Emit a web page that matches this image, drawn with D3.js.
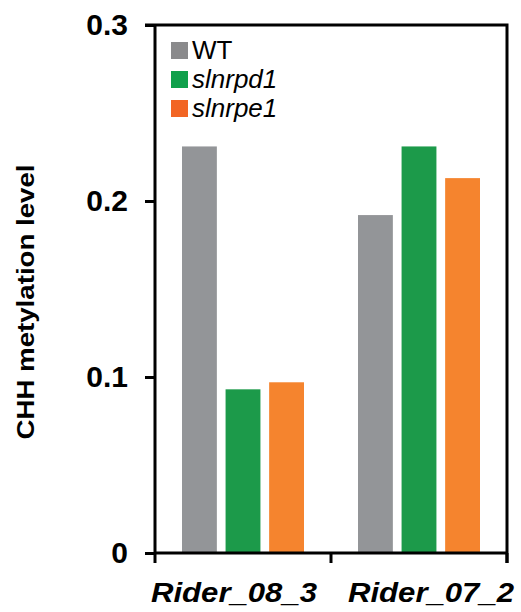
<!DOCTYPE html>
<html>
<head>
<meta charset="utf-8">
<script src="https://cdn.jsdelivr.net/npm/d3@7"></script>
<style>
  body { margin: 0; background: #fff; }
  svg { font-family: Arial, "Liberation Sans", sans-serif; }
</style>
</head>
<body>
<svg id="chart" width="521" height="612"></svg>
<script>
// data
var loci = ["Rider_08_3", "Rider_07_2"];
var genotypes = ["WT", "slnrpd1", "slnrpe1"];
var wt      = [0.231, 0.192];
var slnrpd1 = [0.093, 0.231];
var slnrpe1 = [0.097, 0.213];
var yTicks = [0, 0.1, 0.2, 0.3];

var barColors = ["#939598", "#1c9a4a", "#f5842e"];
var legendColors = ["#8a8a8c", "#10a04b", "#f26524"];

var svg = d3.select("#chart"),
    margin = {top: 25, right: 14, bottom: 59, left: 155},
    width = +svg.attr("width") - margin.left - margin.right,
    height = +svg.attr("height") - margin.top - margin.bottom;

var g = svg.append("g")
    .attr("transform", "translate(" + margin.left + "," + margin.top + ")");

var x0 = d3.scaleBand().domain(loci).range([0, width]);
var x1 = d3.scaleBand().domain(genotypes).range([27, 149]).paddingInner(0.2);
var y = d3.scaleLinear().domain([0, 0.3]).range([height, 0]);

var rows = loci.map(function(l, i) {
  return {locus: l, values: [wt[i], slnrpd1[i], slnrpe1[i]]};
});

// bars
var grp = g.selectAll(".grp")
    .data(rows)
  .enter().append("g")
    .attr("transform", function(d) { return "translate(" + x0(d.locus) + ",0)"; });

grp.selectAll("rect")
    .data(function(d) { return d.values.map(function(v, j) { return {k: genotypes[j], v: v, j: j}; }); })
  .enter().append("rect")
    .attr("x", function(d) { return x1(d.k); })
    .attr("width", x1.bandwidth())
    .attr("y", function(d) { return y(d.v); })
    .attr("height", function(d) { return height - y(d.v); })
    .attr("fill", function(d) { return barColors[d.j]; });

// frame (top and right)
g.append("path")
    .attr("d", "M-10,0H" + width + "V" + (height + 10))
    .attr("fill", "none")
    .attr("stroke", "#000")
    .attr("stroke-width", 3);

// y axis
var yAxis = g.append("g")
    .call(d3.axisLeft(y).tickValues(yTicks).tickSize(10).tickPadding(17)
          .tickFormat(function(d) { return d === 0 ? "0" : d3.format(".1f")(d); }));
yAxis.select(".domain").attr("stroke-width", 3).attr("d", "M0,0V" + height);
yAxis.selectAll(".tick line").attr("stroke-width", 3);
yAxis.selectAll("text")
    .attr("font-size", 30)
    .attr("font-weight", "bold")
    .attr("font-family", "Arial, 'Liberation Sans', sans-serif")
    .attr("fill", "#000");

// x axis
var xAxis = g.append("g")
    .attr("transform", "translate(0," + height + ")")
    .call(d3.axisBottom(x0).tickValues([]).tickSizeOuter(0));
xAxis.select(".domain").attr("stroke-width", 3).attr("d", "M0,0H" + width);
xAxis.selectAll(".sep")
    .data([0, x0.step(), width])
  .enter().append("line")
    .attr("class", "sep")
    .attr("x1", function(d) { return d; })
    .attr("x2", function(d) { return d; })
    .attr("y1", 0)
    .attr("y2", 10)
    .attr("stroke", "#000")
    .attr("stroke-width", 3);

xAxis.selectAll(".lab")
    .data(loci)
  .enter().append("text")
    .attr("class", "lab")
    .attr("x", function(d, i) { return x0(d) + x0.bandwidth() / 2 + (i === 0 ? -9 : 12); })
    .attr("y", 49)
    .attr("text-anchor", "middle")
    .attr("font-size", 27)
    .attr("font-weight", "bold")
    .attr("font-style", "italic")
    .attr("textLength", 166)
    .attr("lengthAdjust", "spacingAndGlyphs")
    .attr("fill", "#000")
    .text(function(d) { return d; });

// y label
svg.append("text")
    .attr("transform", "translate(34," + (margin.top + 277) + ") rotate(-90)")
    .attr("text-anchor", "middle")
    .attr("font-size", 24)
    .attr("font-weight", "bold")
    .attr("textLength", 275)
    .attr("lengthAdjust", "spacingAndGlyphs")
    .text("CHH metylation level");

// legend
var legend = g.append("g")
    .attr("transform", "translate(16,17)")
  .selectAll("g")
    .data(genotypes)
  .enter().append("g")
    .attr("transform", function(d, i) { return "translate(0," + i * 29 + ")"; });

legend.append("rect")
    .attr("width", 17)
    .attr("height", 17)
    .attr("fill", function(d, i) { return legendColors[i]; });

legend.append("text")
    .attr("x", 21)
    .attr("y", 17)
    .attr("font-size", 26)
    .attr("font-style", function(d, i) { return i === 0 ? "normal" : "italic"; })
    .attr("fill", "#000")
    .text(function(d) { return d; });
</script>
</body>
</html>
